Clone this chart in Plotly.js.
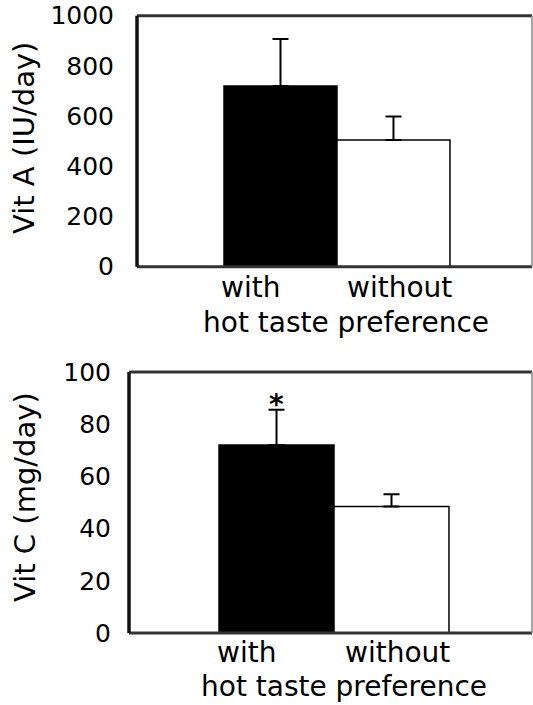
<!DOCTYPE html>
<html>
<head>
<meta charset="utf-8">
<script src="https://cdn.plot.ly/plotly-3.0.1.min.js"></script>
<style>
html,body{margin:0;padding:0;background:#fff;}
#chart{width:533px;height:705px;}
</style>
</head>
<body>
<div id="chart"></div>
<script>
var categories = ['with', 'without'];
var vitA = [720, 505];
var vitAErr = [187, 93];
var vitC = [72, 48.5];
var vitCErr = [13.5, 4.7];
var significance = ['*', ''];
var barColors = ['#000000', '#ffffff'];
var yTicksA = [0, 200, 400, 600, 800, 1000];
var yTicksC = [0, 20, 40, 60, 80, 100];
var titleA = 'Vit A (IU/day)';
var titleC = 'Vit C (mg/day)';
var groupTitle = 'hot taste preference';

var FONT = 'DejaVu Sans, Verdana, sans-serif';
var W = 533, H = 705;

function bar(y, err, xa, ya) {
  return {
    type: 'bar', x: categories, y: y, xaxis: xa, yaxis: ya, width: 1,
    marker: {color: barColors, line: {color: '#000', width: 1.5}},
    error_y: {type: 'data', symmetric: false, array: err,
              arrayminus: err.map(function(){return 0;}),
              color: '#000', thickness: 2, width: 8},
    hoverinfo: 'skip', showlegend: false
  };
}

var traces = [bar(vitA, vitAErr, 'x', 'y'), bar(vitC, vitCErr, 'x2', 'y2')];

function yax(dom, ticks, range, standoff) {
  return {domain: dom, range: range, tickvals: ticks, ticktext: ticks.map(String),
          ticks: '', showgrid: false, zeroline: false, showline: false,
          ticklabelstandoff: standoff,
          tickfont: {family: FONT, size: 25, color: '#000'}, fixedrange: true};
}
function xax(dom, range) {
  return {domain: dom, range: range, type: 'category', showticklabels: false,
          ticks: '', showgrid: false, zeroline: false, showline: false, fixedrange: true};
}

function frame(xa, ya) {
  var xr = xa + ' domain', yr = ya + ' domain';
  return [
    {type: 'line', xref: xr, yref: yr, x0: 0, x1: 1, y0: 1, y1: 1, line: {color: '#333', width: 3}},
    {type: 'line', xref: xr, yref: yr, x0: 0, x1: 1, y0: 0, y1: 0, line: {color: '#333', width: 3}},
    {type: 'line', xref: xr, yref: yr, x0: 0, x1: 0, y0: 0, y1: 1, line: {color: '#111', width: 3.5}},
    {type: 'line', xref: xr, yref: yr, x0: 1, x1: 1, y0: 0, y1: 1, line: {color: '#888', width: 1.5}}
  ];
}

var annotations = [];
var labelShifts = [-30, 6];
function catLabels(xref, py) {
  categories.forEach(function(c, i) {
    annotations.push({xref: xref, yref: 'paper', x: c, y: 1 - py / H, text: c,
      xshift: labelShifts[i], showarrow: false, xanchor: 'center', yanchor: 'middle',
      font: {family: FONT, size: 28, color: '#000'}});
  });
}
catLabels('x', 287);
catLabels('x2', 652);
annotations.push({xref: 'paper', yref: 'paper', x: 346 / W, y: 1 - 322 / H, text: groupTitle,
  showarrow: false, xanchor: 'center', yanchor: 'middle', font: {family: FONT, size: 28, color: '#000'}});
annotations.push({xref: 'paper', yref: 'paper', x: 344 / W, y: 1 - 686 / H, text: groupTitle,
  showarrow: false, xanchor: 'center', yanchor: 'middle', font: {family: FONT, size: 28, color: '#000'}});
annotations.push({xref: 'paper', yref: 'paper', x: 24 / W, y: 1 - 138 / H, text: titleA, textangle: -90,
  showarrow: false, xanchor: 'center', yanchor: 'middle', font: {family: FONT, size: 29, color: '#000'}});
annotations.push({xref: 'paper', yref: 'paper', x: 25 / W, y: 1 - 497 / H, text: titleC, textangle: -90,
  showarrow: false, xanchor: 'center', yanchor: 'middle', font: {family: FONT, size: 29, color: '#000'}});
significance.forEach(function(s, i) {
  if (!s) return;
  annotations.push({xref: 'x2', yref: 'y2', x: categories[i], y: vitC[i] + vitCErr[i], text: '<b>' + s + '</b>',
    showarrow: false, xanchor: 'center', yanchor: 'middle', yshift: 5,
    font: {family: FONT, size: 28, color: '#000'}});
});

var layout = {
  width: W, height: H, margin: {l: 0, r: 0, t: 0, b: 0},
  paper_bgcolor: '#fff', plot_bgcolor: '#fff', bargap: 0, showlegend: false,
  xaxis: xax([137 / W, 532 / W], [-1.27, 2.226]),
  yaxis: yax([1 - 266.7 / H, 1 - 15.7 / H], yTicksA, [0, 1000], 22),
  xaxis2: xax([129 / W, 532 / W], [-1.283, 2.222]),
  yaxis2: yax([1 - 633 / H, 1 - 372 / H], yTicksC, [0, 100], 17),
  shapes: frame('x', 'y').concat(frame('x2', 'y2')),
  annotations: annotations
};
layout.xaxis2.anchor = 'y2';
layout.yaxis2.anchor = 'x2';

Plotly.newPlot('chart', traces, layout, {staticPlot: true, displayModeBar: false});
</script>
</body>
</html>
